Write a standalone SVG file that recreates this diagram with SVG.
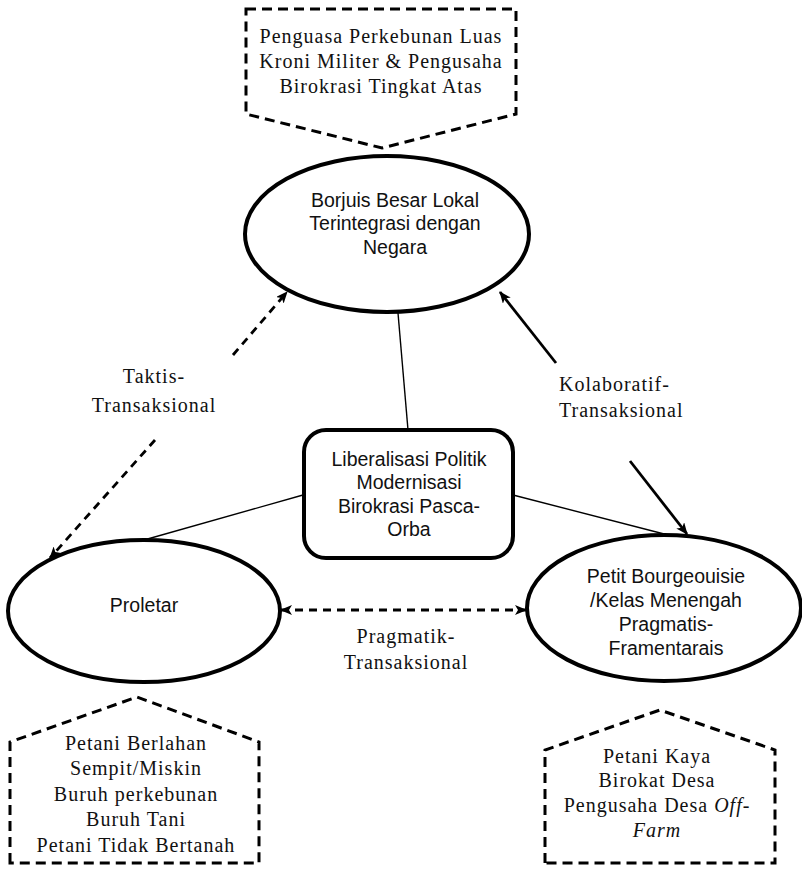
<svg xmlns="http://www.w3.org/2000/svg" width="802" height="873" viewBox="0 0 802 873">
  <defs>
    <style>
      .node { fill: #fff; stroke: #000; stroke-width: 4; }
      .group { fill: #fff; stroke: #000; stroke-width: 3; stroke-dasharray: 10 6; }
      .sans { font-family: "Liberation Sans", Arial, sans-serif; font-size: 19.5px; fill: #111; text-anchor: middle; }
      .serif { font-family: "Liberation Serif", "Times New Roman", serif; font-size: 20px; letter-spacing: 1px; fill: #111; text-anchor: middle; }
      .thin { stroke: #000; stroke-width: 1.4; fill: none; }
      .solid { stroke: #000; stroke-width: 2.8; fill: none; }
      .dashed { stroke: #000; stroke-width: 2.8; fill: none; stroke-dasharray: 8 6; }
    </style>
    <marker id="head" viewBox="0 0 12 10" refX="11" refY="5" markerWidth="12" markerHeight="10" markerUnits="userSpaceOnUse" orient="auto-start-reverse">
      <path d="M0,0 L12,5 L0,10 L3,5 z" fill="#000"/>
    </marker>
  </defs>

  <!-- background -->
  <rect width="802" height="873" fill="#fff"/>

  <!-- connectors -->
  <g id="connectors">
    <line class="thin" x1="398" y1="313" x2="408" y2="430"/>
    <line class="thin" x1="303" y1="495" x2="144" y2="540"/>
    <line class="thin" x1="513" y1="495" x2="668" y2="535"/>
    <!-- Taktis-Transaksional -->
    <line class="dashed" x1="233" y1="355" x2="287" y2="292" marker-end="url(#head)"/>
    <line class="dashed" x1="155" y1="440" x2="50" y2="558" marker-end="url(#head)"/>
    <!-- Kolaboratif-Transaksional -->
    <line class="solid" x1="556" y1="363" x2="500" y2="292" marker-end="url(#head)"/>
    <line class="solid" x1="630" y1="461" x2="687" y2="534" marker-end="url(#head)"/>
    <!-- Pragmatik-Transaksional -->
    <line class="dashed" x1="281" y1="610" x2="526" y2="610" marker-start="url(#head)" marker-end="url(#head)"/>
  </g>

  <!-- connector labels -->
  <g id="labels">
    <text class="serif" x="154" y="383">Taktis-</text>
    <text class="serif" x="154" y="412">Transaksional</text>
    <text class="serif" x="559" y="391" style="text-anchor:start">Kolaboratif-</text>
    <text class="serif" x="559" y="417" style="text-anchor:start">Transaksional</text>
    <text class="serif" x="406" y="643">Pragmatik-</text>
    <text class="serif" x="406" y="669">Transaksional</text>
  </g>

  <!-- upper class members -->
  <g id="upper-members">
    <path class="group" d="M246,9 L516,9 L516,114 L382,148 L246,114 Z"/>
    <text class="serif" x="381" y="43">Penguasa Perkebunan Luas</text>
    <text class="serif" x="381" y="68">Kroni Militer &amp; Pengusaha</text>
    <text class="serif" x="381" y="93">Birokrasi Tingkat Atas</text>
  </g>

  <g id="borjuis">
    <ellipse class="node" cx="387" cy="234" rx="142" ry="78"/>
    <text class="sans" x="395" y="207">Borjuis Besar Lokal</text>
    <text class="sans" x="395" y="230">Terintegrasi dengan</text>
    <text class="sans" x="395" y="254">Negara</text>
  </g>

  <g id="liberalisasi">
    <rect class="node" x="304" y="430" width="209" height="128" rx="22" ry="22"/>
    <text class="sans" x="409" y="466">Liberalisasi Politik</text>
    <text class="sans" x="409" y="489">Modernisasi</text>
    <text class="sans" x="409" y="513">Birokrasi Pasca-</text>
    <text class="sans" x="409" y="536">Orba</text>
  </g>

  <g id="proletar">
    <ellipse class="node" cx="144" cy="611" rx="136" ry="71"/>
    <text class="sans" x="144" y="612">Proletar</text>
  </g>

  <g id="petit-bourgeoisie">
    <ellipse class="node" cx="664" cy="608" rx="137" ry="73"/>
    <text class="sans" x="666" y="583">Petit Bourgeouisie</text>
    <text class="sans" x="666" y="607">/Kelas Menengah</text>
    <text class="sans" x="666" y="631">Pragmatis-</text>
    <text class="sans" x="666" y="655">Framentarais</text>
  </g>

  <!-- lower class members -->
  <g id="lower-members">
    <path class="group" d="M10,863 L10,742 L137,697 L259,742 L259,863 Z"/>
    <text class="serif" x="136" y="750">Petani Berlahan</text>
    <text class="serif" x="136" y="775">Sempit/Miskin</text>
    <text class="serif" x="136" y="801">Buruh perkebunan</text>
    <text class="serif" x="136" y="826">Buruh Tani</text>
    <text class="serif" x="136" y="852">Petani Tidak Bertanah</text>
  </g>

  <!-- middle class members -->
  <g id="middle-members">
    <path class="group" d="M545,863 L545,750 L660,710 L775,750 L775,863 Z"/>
    <text class="serif" x="657" y="763">Petani Kaya</text>
    <text class="serif" x="657" y="787">Birokat Desa</text>
    <text class="serif" x="657" y="812">Pengusaha Desa <tspan font-style="italic">Off-</tspan></text>
    <text class="serif" x="657" y="837" font-style="italic">Farm</text>
  </g>
</svg>
